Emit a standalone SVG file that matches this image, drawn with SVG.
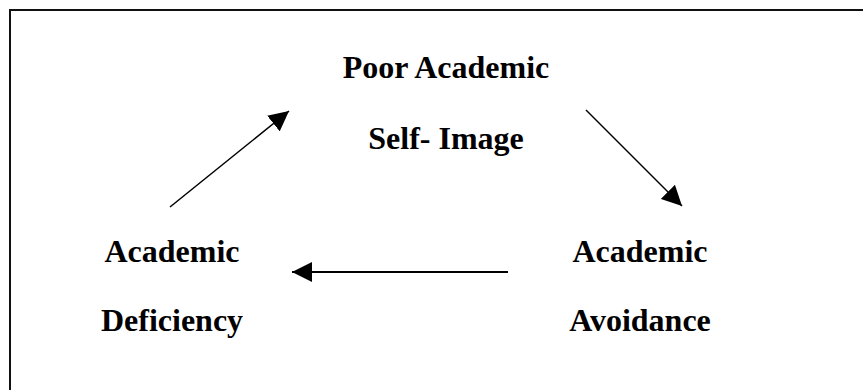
<svg xmlns="http://www.w3.org/2000/svg" width="863" height="390" viewBox="0 0 863 390">
<style>
text{font-family:"Liberation Serif","Times New Roman",serif;font-weight:bold;font-size:32px;fill:#000;text-anchor:middle}
.c{stroke:#000;fill:none}
</style>
<defs>
<marker id="ah" markerWidth="20" markerHeight="20" viewBox="0 0 20 20" refX="20" refY="10" orient="auto" markerUnits="userSpaceOnUse">
<path d="M0,0 L20,10 L0,20 Z" fill="#000"/>
</marker>
</defs>
<rect x="10" y="10" width="870" height="400" fill="#fff" stroke="#111" stroke-width="2"/>
<g id="node-poor-academic-self-image">
<text x="446" y="78">Poor Academic</text>
<text x="446" y="149">Self- Image</text>
</g>
<g id="node-academic-deficiency">
<text x="172" y="262">Academic</text>
<text x="172" y="331">Deficiency</text>
</g>
<g id="node-academic-avoidance">
<text x="640" y="262">Academic</text>
<text x="640" y="331">Avoidance</text>
</g>
<g id="connectors">
<line class="c" x1="170" y1="207" x2="289" y2="111" stroke-width="1.5" marker-end="url(#ah)"/>
<line class="c" x1="586" y1="110" x2="682" y2="206" stroke-width="1.5" marker-end="url(#ah)"/>
<line class="c" x1="508" y1="272" x2="292" y2="272" stroke-width="2" marker-end="url(#ah)"/>
</g>
</svg>
